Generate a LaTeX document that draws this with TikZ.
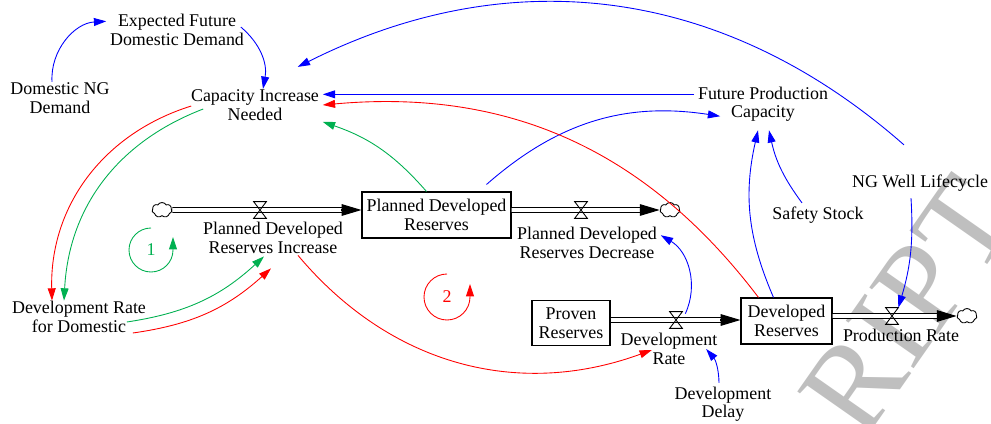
\documentclass[tikz,border=0pt]{standalone}
\usepackage{fontspec}
\setmainfont{Liberation Serif}
\usepackage{xcolor}
\usepackage{tikz}
\usetikzlibrary{arrows.meta,calc,shapes.symbols}
\definecolor{infoblue}{RGB}{0,0,255}
\definecolor{infored}{RGB}{255,0,0}
\definecolor{infogreen}{RGB}{0,176,80}

\begin{document}
\begin{tikzpicture}[x=0.02cm,y=-0.02cm,
	every node/.style={font=\fontsize{10.2}{10.5}\selectfont},
	lbl/.style={align=center,inner sep=2pt},
	stock/.style={draw,line width=0.6pt,align=center,inner sep=1pt},
	valve/.style={minimum width=0.24cm,minimum height=0.32cm,inner sep=0pt},
	sink/.style={cloud,cloud puffs=7,cloud puff arc=120,aspect=1.3,draw,line width=0.5pt,minimum width=0.4cm,minimum height=0.3cm,inner sep=0pt},
	pipe/.style={double,double distance=2pt,line width=0.6pt},
	pipetip/.style={-{Triangle[length=11.3pt,width=6.6pt]},line width=0.6pt},
	info/.style={-{Triangle[length=7pt,width=4.5pt]},line width=0.5pt}]
				\useasboundingbox (0,0) rectangle (991,423);
				\node[text=black!25,font=\fontsize{72}{72}\selectfont,rotate=55] (wm) at (908,306) {RIPT};%watermark
				
				\node[stock,minimum width=2.98cm,minimum height=0.92cm] (pdr) at (436.5,215) {Planned Developed\\Reserves};
				\node[stock,minimum width=1.56cm,minimum height=0.9cm] (prv) at (571,323) {Proven\\Reserves};
				\node[stock,minimum width=1.82cm,minimum height=0.92cm] (dvr) at (786.5,321) {Developed\\Reserves};
				\node[sink] (cl1) at (162,210) {};
				\node[sink] (cl2) at (670,210) {};
				\node[sink] (cl4) at (967,316) {};
				
				\draw[pipe,shorten >=10pt] (cl1) -- (cl1 -| pdr.west);
				\draw[pipetip] ($(cl1 -| pdr.west)+(-20,0)$) -- (cl1 -| pdr.west);
				\draw[pipe,shorten >=10pt] (pdr.east |- cl2) -- (cl2);
				\draw[pipetip] ($(cl2.west)+(-20,0)$) -- (cl2.west);
				\draw[pipe,shorten >=10pt] (676,320 -| prv.east) -- (676,320 -| dvr.west);
				\draw[pipetip] ($(676,320 -| dvr.west)+(-20,0)$) -- (676,320 -| dvr.west);
				\draw[pipe,shorten >=10pt] (dvr.east |- cl4) -- (cl4);
				\draw[pipetip] ($(cl4.west)+(-20,0)$) -- (cl4.west);
				
				\node[valve] (v1) at (260,210) {};
				\node[valve] (v2) at (581,210) {};
				\node[valve] (v3) at (676,320) {};
				\node[valve] (v4) at (892,316) {};
				\draw[line width=0.5pt] (v1.north west) -- (v1.north east) -- (v1.south west) -- (v1.south east) -- cycle;
				\draw[line width=0.5pt] (v2.north west) -- (v2.north east) -- (v2.south west) -- (v2.south east) -- cycle;
				\draw[line width=0.5pt] (v3.north west) -- (v3.north east) -- (v3.south west) -- (v3.south east) -- cycle;
				\draw[line width=0.5pt] (v4.north west) -- (v4.north east) -- (v4.south west) -- (v4.south east) -- cycle;
				
				\node[lbl] (dngd) at (60,98) {Domestic NG\\Demand};
				\node[lbl] (efdd) at (177,30) {Expected Future\\Domestic Demand};
				\node[lbl] (cin) at (255,105) {Capacity Increase\\Needed};
				\node[lbl] (fpc) at (763,104) {Future Production\\Capacity};
				\node[lbl] (ss) at (818,215) {Safety Stock};
				\node[lbl] (ngwl) at (920,183) {NG Well Lifecycle};
				\node[lbl] (drd) at (79,317) {Development Rate\\for Domestic};
				\node[lbl] (pdri) at (273,238) {Planned Developed\\Reserves Increase};
				\node[lbl] (pdrd) at (587,243) {Planned Developed\\Reserves Decrease};
				\node[lbl] (dr) at (669,349) {Development\\Rate};
				\node[lbl] (prl) at (901,335) {Production Rate};
				\node[lbl] (dd) at (723,404) {Development\\Delay};
				
				\draw[info,infoblue] ($(dngd.north)+(-8,3)$) to[bend left=45] (efdd.173);
				\draw[info,infoblue] ($(efdd.east)+(-7,-3)$) to[bend left=30] ($(cin.north)+(8,3)$);
				\draw[info,infoblue] ($(ngwl.north)+(-16,-26)$) to[bend right=34] ($(cin.north east)+(-25,-19)$);
				\draw[info,infoblue] (fpc.172) -- (fpc.172 -| cin.east);
				\draw[info,infored] ($(cin.west)+(4,1)$) to[bend right=37] ($(drd.north)+(-27,3)$);
				\draw[info,infogreen] ($(cin.west)+(16,4)$) to[bend right=33] ($(drd.north)+(-15,3)$);
				\draw[info,infogreen] ($(drd.east)+(-23,5)$) to[bend right=17] ($(pdri.south)+(-9,-1)$);
				\draw[info,infored] ($(drd.east)+(-17,16)$) to[bend right=17] ($(pdri.south)+(-2,11)$);
				\draw[info,infogreen] ($(pdr.north)+(-10,0)$) to[bend right=15] (cin.-14);
				\draw[info,infoblue] ($(pdr.north)+(50,-7)$) to[bend left=25] ($(fpc.south west)+(26,-9)$);
				\draw[info,infored] ($(dvr.north)+(-28,0)$) to[bend right=29] (cin.east);
				\draw[info,infoblue] ($(dvr.north)+(-13,0)$) to[bend left=18] ($(fpc.south)+(-5,5)$);
				\draw[info,infoblue] ($(ss.north)+(-16,0)$) to[bend left=12] ($(fpc.south)+(6,5)$);
				\draw[info,infoblue] ($(ngwl.south)+(-9,3)$) to[bend left=10] (v4.north east);
				\draw[info,infored] ($(pdri.south)+(25,-2)$) to[bend right=35] ($(dr.west)+(35,1)$);
				\draw[info,infoblue] ($(v3.north east)+(3,2)$) to[bend right=42] (pdrd.6);
				\draw[info,infoblue] ($(dd.north)+(-4,0)$) to[bend right=20] ($(dr.east)+(-15,0)$);
				
				\node[text=infogreen] (lp1) at (151,250) {1};
				\draw[info,infogreen] ($(lp1)+(0,-22)$) arc[start angle=-90,end angle=-360,radius=22] -- ++(0,-13);
				\node[text=infored] (lp2) at (447,297) {2};
				\draw[info,infored] ($(lp2)+(0,-23)$) arc[start angle=-90,end angle=-360,radius=23] -- ++(0,-13);
			\end{tikzpicture}
\end{document}
